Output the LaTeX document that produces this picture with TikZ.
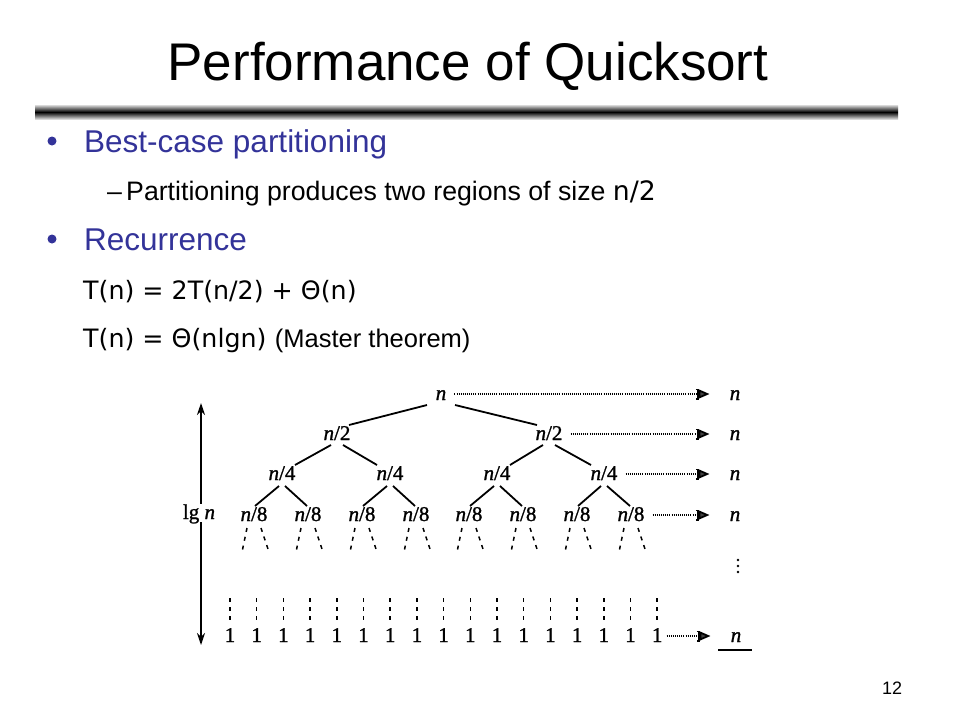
\documentclass[tikz,border=0pt]{standalone}
\usepackage{fontspec}
\setmainfont{Liberation Sans}
\newfontfamily\comicf{DejaVu Sans}
\newfontfamily\treef[FakeBold=1.2]{Liberation Serif}
\usetikzlibrary{arrows.meta}
\definecolor{ppblue}{HTML}{333399}
\begin{document}
\begin{tikzpicture}[x=1pt,y=-1pt,
  tl/.style={font=\treef\fontsize{21}{23}\selectfont, inner sep=2pt, text height=13pt, text depth=1pt},
  treeedge/.style={line width=1.8pt},
  dsh/.style={line width=1.5pt, dash pattern=on 4pt off 5pt},
  dotarr/.style={line width=1.8pt, dash pattern=on 1pt off 1.1pt,
    -{Bracket[width=11pt,length=2pt,line width=1.3pt] Triangle[width=9pt,length=11pt,fill=black!75]},
    shorten <=6pt, shorten >=18pt},
  larr/.style={line width=1.5pt, -{Stealth[length=12pt,width=8pt]}},
  txt/.style={anchor=base west, inner sep=0pt},
  big/.style={txt, font=\fontsize{31.5}{36}\selectfont, text=ppblue},
  small/.style={txt, font=\fontsize{26.7}{32}\selectfont},
  comic/.style={txt, font=\comicf\fontsize{25.3}{30}\selectfont}
]
\useasboundingbox (0,0) rectangle (960,720);
\fill[white] (0,0) rectangle (960,720);

% title and bar
\node[anchor=base, inner sep=0pt, font=\fontsize{53}{60}\selectfont] (title) at (468,80) {Performance of Quicksort};
\shade[top color=black!15, bottom color=black!15, middle color=black] (35,105) rectangle (898,119);

% bullets
\fill[ppblue] (52,141) circle (4.5);
\node[big] (h1) at (84,152) {Best-case partitioning};
\node[small] (d1) at (107,200) {–};
\node[small] (s1) at (126,200) {Partitioning produces two regions of size {\comicf n/2}};
\fill[ppblue] (52,239) circle (4.5);
\node[big] (h2) at (84,250) {Recurrence};
\node[comic] (t1) at (83,299) {T(n) = 2T(n/2) + Θ(n)};
\node[comic] (t2) at (83,347) {T(n) = Θ(nlgn)};
\node[txt, font=\fontsize{25.5}{30}\selectfont] (t3) at ([xshift=8pt]t2.base east) {(Master theorem)};
\node[anchor=base, inner sep=0pt, font=\fontsize{18}{20}\selectfont] (pg) at (892,694) {12};

% tree nodes
\node[tl] (root) at (441,394) {\itshape n};
\node[tl] (a1) at (337,434) {{\itshape n}/2};
\node[tl] (a2) at (549,434) {{\itshape n}/2};
\foreach \x [count=\i] in {282,390,497,604}
  \node[tl] (b\i) at (\x,474) {{\itshape n}/4};
\foreach \x [count=\i] in {254,308,362,416,469,523,577,631}
  \node[tl] (c\i) at (\x,515) {{\itshape n}/8};
\foreach \i in {1,...,17}
  \node[tl] (l\i) at ({230+26.7*(\i-1)},636) {1};

% tree edges
\draw[treeedge] ([shift={(-14,11)}]root.center) -- ([shift={(12,-9)}]a1.center);
\draw[treeedge] ([shift={(14,11)}]root.center) -- ([shift={(-12,-9)}]a2.center);
\draw[treeedge] ([shift={(-6,11)}]a1.center) -- ([shift={(13,-9)}]b1.center);
\draw[treeedge] ([shift={(6,11)}]a1.center) -- ([shift={(-13,-9)}]b2.center);
\draw[treeedge] ([shift={(-6,11)}]a2.center) -- ([shift={(13,-9)}]b3.center);
\draw[treeedge] ([shift={(6,11)}]a2.center) -- ([shift={(-13,-9)}]b4.center);
\foreach \p/\l/\r in {1/1/2,2/3/4,3/5/6,4/7/8} {
  \draw[treeedge] ([shift={(-3,12)}]b\p.center) -- ([shift={(1,-9)}]c\l.center);
  \draw[treeedge] ([shift={(3,12)}]b\p.center) -- ([shift={(-1,-9)}]c\r.center);
}
% dashed continuations
\foreach \i in {1,...,8} {
  \draw[dsh] ([shift={(-7,13)}]c\i.center) -- ([shift={(-12,37)}]c\i.center);
  \draw[dsh] ([shift={(7,13)}]c\i.center) -- ([shift={(15,37)}]c\i.center);
}
\foreach \i in {1,...,17}
  \draw[dsh] ([shift={(0,-38)}]l\i.center) -- ([shift={(0,-12)}]l\i.center);

% right column
\node[tl] (r1) at (735,394) {\itshape n};
\node[tl] (r2) at (735,434) {\itshape n};
\node[tl] (r3) at (735,474) {\itshape n};
\node[tl] (r4) at (735,515) {\itshape n};
\node[tl] (r5) at (736,636) {\itshape n};
\foreach \y in {560,566,572} \fill (738,\y) circle (1.3);
\draw[line width=1.4pt] ([shift={(-18,14)}]r5.center) -- ([shift={(16,14)}]r5.center);

\draw[dotarr] (root.east) -- (r1.west);
\draw[dotarr] (a2.east) -- (r2.west);
\draw[dotarr] (b4.east) -- (r3.west);
\draw[dotarr] (c8.east) -- (r4.west);
\draw[dotarr, shorten <=2pt] (l17.east) -- (r5.west);

% lg n arrow
\coordinate (atop) at (201,403);
\coordinate (abot) at (201,645);
\node[tl, fill=white] (lgn) at (199,513) {lg {\itshape n}};
\draw[larr] (lgn.north -| atop) -- (atop);
\draw[larr] (lgn.south -| abot) -- (abot);
\end{tikzpicture}
\end{document}
